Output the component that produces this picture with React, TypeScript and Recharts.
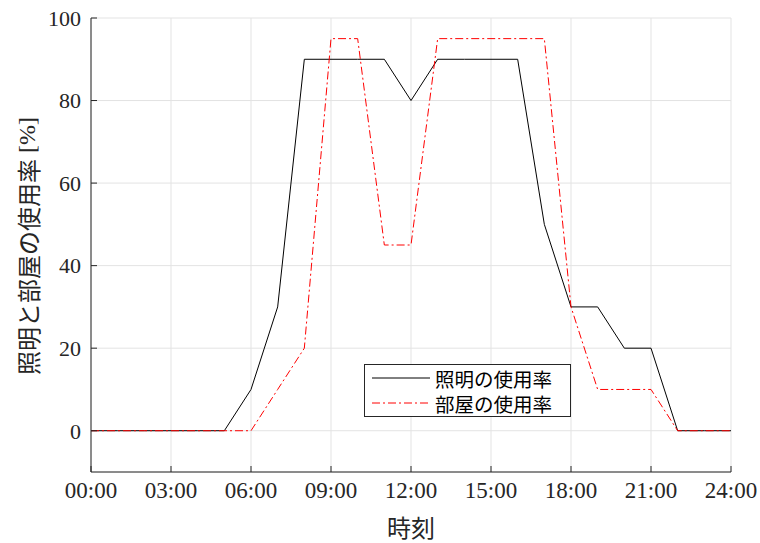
import React from 'react';
import { LineChart, Line, XAxis, YAxis, CartesianGrid, Legend } from 'recharts';

const hours = [0, 1, 2, 3, 4, 5, 6, 7, 8, 9, 10, 11, 12, 13, 14, 15, 16, 17, 18, 19, 20, 21, 22, 23, 24];
const lightingRate = [0, 0, 0, 0, 0, 0, 10, 30, 90, 90, 90, 90, 80, 90, 90, 90, 90, 50, 30, 30, 20, 20, 0, 0, 0];
const roomRate = [0, 0, 0, 0, 0, 0, 0, 10, 20, 95, 95, 45, 45, 95, 95, 95, 95, 95, 30, 10, 10, 10, 0, 0, 0];

const xTicks = [0, 3, 6, 9, 12, 15, 18, 21, 24];
const yTicks = [0, 20, 40, 60, 80, 100];

const seriesNames = ['照明の使用率', '部屋の使用率'];

const data = hours.map((h, i) => ({ h, light: lightingRate[i], room: roomRate[i] }));

const SERIF = '"Liberation Serif", "Times New Roman", serif';
const CJK = '"Noto Sans CJK JP", "Noto Sans", sans-serif';
const AXIS = '#262626';
const DASHDOT = '8 3 2 3';

const fmtHour = (v: number) => `${String(v).padStart(2, '0')}:00`;

const YLabel = () => (
    <text x={27} y={246} transform="rotate(-90 27 246)" textAnchor="middle" dominantBaseline="central" fill={AXIS} fontSize={24} fontFamily={CJK}>
        照明と部屋の使用率<tspan fontFamily={SERIF}> [%]</tspan>
    </text>
);

const XLabel = () => (
    <text x={411} y={526} textAnchor="middle" dominantBaseline="central" fill={AXIS} fontSize={24} fontFamily={CJK}>
        時刻
    </text>
);

// boxed legend, drawn by hand so the dash-dot sample matches the series
const LegendBox = () => (
    <svg width={207} height={53} style={{ display: 'block' }}>
        <rect x={0.5} y={0.5} width={206} height={52} fill="#fff" stroke={AXIS} strokeWidth={1} />
        <line x1={8} x2={66} y1={14} y2={14} stroke="#000" strokeWidth={1} />
        <line x1={8} x2={66} y1={39} y2={39} stroke="#ff0000" strokeWidth={1} strokeDasharray={DASHDOT} />
        <text x={71} y={14} dominantBaseline="central" fontSize={19.5} fontFamily={CJK} fill="#000">{seriesNames[0]}</text>
        <text x={71} y={39} dominantBaseline="central" fontSize={19.5} fontFamily={CJK} fill="#000">{seriesNames[1]}</text>
    </svg>
);

export default function App() {
    return (
        <div style={{ position: 'absolute', left: 0, top: 0, width: 760, height: 543, background: '#fff' }}>
            <LineChart width={760} height={543} data={data} margin={{ top: 18, right: 29, left: 0, bottom: 0 }}>
                <CartesianGrid stroke="#e3e3e3" strokeWidth={1} />
                <XAxis
                    dataKey="h"
                    type="number"
                    domain={[0, 24]}
                    ticks={xTicks}
                    tickFormatter={fmtHour}
                    height={71}
                    tickSize={-6}
                    tickMargin={16}
                    stroke={AXIS}
                    tick={{ fill: AXIS, fontSize: 23, fontFamily: SERIF }}
                    label={<XLabel />}
                />
                <YAxis
                    type="number"
                    domain={[-10, 100]}
                    ticks={yTicks}
                    width={91}
                    tickSize={-6}
                    tickMargin={16}
                    stroke={AXIS}
                    tick={{ fill: AXIS, fontSize: 22, fontFamily: SERIF }}
                    label={<YLabel />}
                />
                <Line dataKey="light" name={seriesNames[0]} stroke="#000" strokeWidth={1} dot={false} isAnimationActive={false} />
                <Line dataKey="room" name={seriesNames[1]} stroke="#ff0000" strokeWidth={1} strokeDasharray={DASHDOT} dot={false} isAnimationActive={false} />
                <Legend
                    verticalAlign="middle"
                    align="center"
                    content={<LegendBox />}
                    wrapperStyle={{ position: 'absolute', left: 364, top: 364, width: 207, height: 53 }}
                />
            </LineChart>
        </div>
    );
}
